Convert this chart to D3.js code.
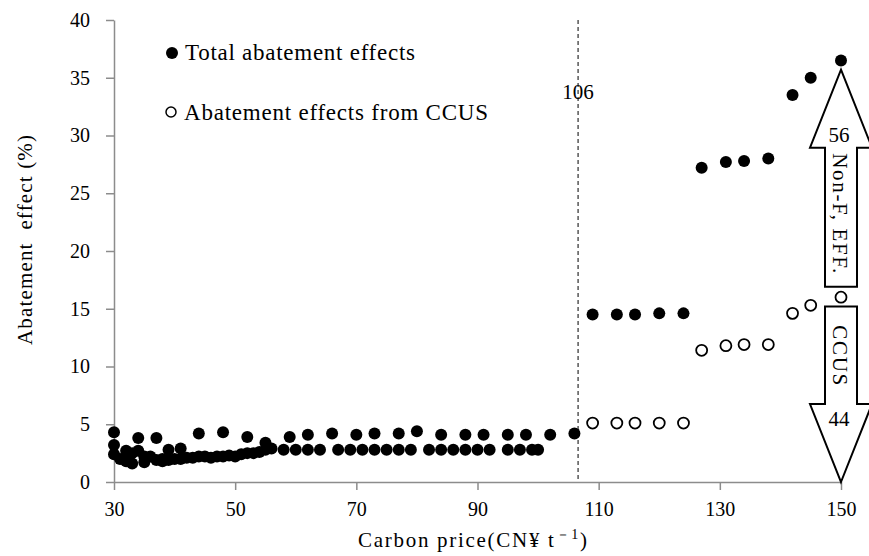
<!DOCTYPE html>
<html>
<head>
<meta charset="utf-8">
<script src="https://cdn.jsdelivr.net/npm/d3@7"></script>
<style>
  body { margin: 0; background: #fff; }
  text { font-family: "Liberation Serif", "Times New Roman", serif; fill: #000; }
</style>
</head>
<body>
<svg width="869" height="556"></svg>
<script>
// total abatement effect (%) vs carbon price
let totalPrice = [30,30,30,31,32,32,33,33,34,34,35,35,36,37,37,38,38,39,39,40,41,41,42,43,44,44,45,46,47,48,48,49,50,51,52,52,53,54,55,55,56,
  58,59,60,62,62,64,66,67,69,70,71,73,73,75,77,77,79,80,82,84,84,86,88,88,90,91,92,95,95,97,98,99,100,102,106,
  109,113,116,120,124,127,131,134,138,142,145,150];
let totalValue = [4.3,3.2,2.4,2.0,1.8,2.7,1.6,2.5,3.8,2.7,2.2,1.7,2.2,3.8,1.9,1.8,2.0,2.8,1.9,2.0,2.9,2.0,2.1,2.1,4.2,2.2,2.2,2.1,2.2,4.3,2.2,2.3,2.2,2.4,3.9,2.5,2.5,2.6,3.4,2.8,2.9,
  2.8,3.9,2.8,4.1,2.8,2.8,4.2,2.8,2.8,4.1,2.8,4.2,2.8,2.8,4.2,2.8,2.8,4.4,2.8,4.1,2.8,2.8,4.1,2.8,2.8,4.1,2.8,4.1,2.8,2.8,4.1,2.8,2.8,4.1,4.2,
  14.5,14.5,14.5,14.6,14.6,27.2,27.7,27.8,28.0,33.5,35.0,36.5];

// abatement from CCUS
let ccusPrice = [109,113,116,120,124,127,131,134,138,142,145,150];
let ccusValue = [5.1,5.1,5.1,5.1,5.1,11.4,11.8,11.9,11.9,14.6,15.3,16.0];

let xTicks = [30,50,70,90,110,130,150];
let yTicks = [0,5,10,15,20,25,30,35,40];

let thresholdLabel = "106";
let thresholdAt = 106.6;

// share at 150: Non-F, EFF. (56) and CCUS (44)
let shareLabels = ["56", "44"];
let shareNames = ["Non-F, EFF.", "CCUS"];
let shareRanges = [[35.7, 16.9], [15.2, 0]];

let svg = d3.select('svg');

let x = d3.scaleLinear().domain([30, 150]).range([114, 841]);
let y = d3.scaleLinear().domain([0, 40]).range([482, 20]);

let axisColor = "#8c8c8c";

let xAxis = svg.append('g')
  .attr('transform', `translate(0, ${y(0)})`)
  .call(d3.axisBottom(x).tickValues(xTicks).tickSize(8).tickSizeOuter(0).tickPadding(12));

let yAxis = svg.append('g')
  .attr('transform', `translate(${x(30)}, 0)`)
  .call(d3.axisLeft(y).tickValues(yTicks).tickSize(8).tickSizeOuter(0).tickPadding(16));

[xAxis, yAxis].forEach(function(a){
  a.select('.domain').attr('stroke', axisColor).attr('stroke-width', 1.5);
  a.selectAll('.tick line').attr('stroke', axisColor).attr('stroke-width', 1.5);
  a.selectAll('.tick text')
    .style('font-family', '"Liberation Serif", serif')
    .style('font-size', '20px')
    .attr('fill', '#000');
})

// dashed threshold line
svg.append('line')
  .attr('x1', x(thresholdAt)).attr('x2', x(thresholdAt))
  .attr('y1', y(40)).attr('y2', y(0))
  .attr('stroke', '#000')
  .attr('stroke-width', 1)
  .attr('stroke-dasharray', '4,3');

svg.append('text')
  .attr('x', x(thresholdAt)).attr('y', 99)
  .attr('text-anchor', 'middle')
  .style('font-size', '21px')
  .text(thresholdLabel);

// arrows
let arrowX = x(150);
let headHalf = 31, shaftHalf = 16, headLen = 78;
let nameLengths = [120, 60];

shareRanges.forEach(function(r, i){
  let tip = y(r[0]), tail = y(r[1]);
  let dir = i == 0 ? 1 : -1; // 1 = pointing up
  let tipY = i == 0 ? tip : tail;
  let tailY = i == 0 ? tail : tip;
  let baseY = tipY + dir * headLen;
  let pts = [
    [arrowX, tipY],
    [arrowX + headHalf, baseY],
    [arrowX + shaftHalf, baseY],
    [arrowX + shaftHalf, tailY],
    [arrowX - shaftHalf, tailY],
    [arrowX - shaftHalf, baseY],
    [arrowX - headHalf, baseY]
  ];
  svg.append('polygon')
    .attr('points', pts.map(p => p.join(',')).join(' '))
    .attr('fill', '#fff')
    .attr('stroke', '#000')
    .attr('stroke-width', 2);

  svg.append('text')
    .attr('x', arrowX - 2)
    .attr('y', i == 0 ? baseY - 6 : baseY + 22)
    .attr('text-anchor', 'middle')
    .style('font-size', '21px')
    .text(shareLabels[i]);

  let midY = i == 0 ? (baseY + tailY) / 2 - 4 : (baseY + tailY) / 2;
  svg.append('text')
    .attr('transform', `translate(${arrowX - 8}, ${midY}) rotate(90)`)
    .attr('text-anchor', 'middle')
    .style('font-size', '21px')
    .attr('textLength', nameLengths[i])
    .text(shareNames[i]);
})

// points
svg.append('g')
  .selectAll('circle')
  .data(totalPrice.map((p, i) => ({p: p, v: totalValue[i]})))
  .join('circle')
  .attr('cx', d => x(d.p))
  .attr('cy', d => y(d.v))
  .attr('r', 6)
  .attr('fill', '#000');

svg.append('g')
  .selectAll('circle')
  .data(ccusPrice.map((p, i) => ({p: p, v: ccusValue[i]})))
  .join('circle')
  .attr('cx', d => x(d.p))
  .attr('cy', d => y(d.v))
  .attr('r', 5.5)
  .attr('fill', '#fff')
  .attr('stroke', '#000')
  .attr('stroke-width', 1.8);

// legend
svg.append('circle').attr('cx', 172).attr('cy', 53).attr('r', 6).attr('fill', '#000');
svg.append('text').attr('x', 185).attr('y', 60).style('font-size', '23px')
  .attr('textLength', 230).text('Total abatement effects');
svg.append('circle').attr('cx', 171).attr('cy', 112).attr('r', 5).attr('fill', '#fff')
  .attr('stroke', '#000').attr('stroke-width', 1.5);
svg.append('text').attr('x', 184).attr('y', 120).style('font-size', '23px')
  .attr('textLength', 304).text('Abatement effects from CCUS');

// axis titles
let xTitle = svg.append('text')
  .attr('x', 358).attr('y', 547)
  .attr('textLength', 229)
  .style('font-size', '21px');
xTitle.append('tspan').text('Carbon price(CN¥ t');
xTitle.append('tspan').attr('dy', -8).style('font-size', '14px').text('－1');
xTitle.append('tspan').attr('dy', 8).text(')');

svg.append('text')
  .attr('transform', 'translate(32, 240) rotate(-90)')
  .attr('text-anchor', 'middle')
  .attr('textLength', 210)
  .style('font-size', '21px')
  .style('white-space', 'pre')
  .text('Abatement  effect (%)');
</script>
</body>
</html>
